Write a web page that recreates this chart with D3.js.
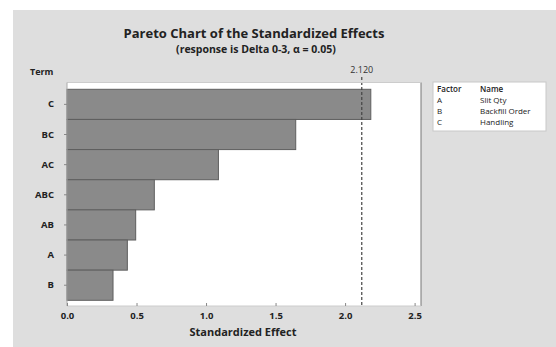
<!DOCTYPE html>
<html><head><meta charset="utf-8">
<script src="https://cdn.jsdelivr.net/npm/d3@7/dist/d3.min.js"></script>
<style>body{margin:0;background:#fff}svg{display:block}text{font-family:"Open Sans","Noto Sans",sans-serif}</style>
</head><body>
<svg id="c" width="556" height="347"></svg>
<script>
const terms = ["C","BC","AC","ABC","AB","A","B"];
const effects = [2.185, 1.645, 1.089, 0.628, 0.494, 0.434, 0.331];
const xTicks = [0, 0.5, 1.0, 1.5, 2.0, 2.5];
const critical = 2.120;
const factors = ["A","B","C"];
const factorNames = ["Slit Qty","Backfill Order","Handling"];

const svg = d3.select("#c");
svg.append("rect").attr("x",13).attr("y",10).attr("width",543).attr("height",337).attr("fill","#dedede");

const x = d3.scaleLinear().domain([0, 2.546]).range([67, 421]);
const y = d3.scaleBand().domain(terms).range([89.3, 300.3]).padding(0);

svg.append("rect").attr("x",67).attr("y",82.5).attr("width",354).attr("height",223.5).attr("fill","#fff");

svg.append("text").attr("x",254).attr("y",38).attr("text-anchor","middle").attr("font-size",13).attr("font-weight","bold").attr("fill","#222").text("Pareto Chart of the Standardized Effects");
svg.append("text").attr("x",256).attr("y",53).attr("text-anchor","middle").attr("font-size",10.5).attr("font-weight","bold").attr("fill","#222").text("(response is Delta 0-3, \u03b1 = 0.05)");
svg.append("text").attr("x",30).attr("y",75).attr("font-size",9).attr("font-weight","bold").attr("fill","#222").text("Term");

svg.append("g").selectAll("rect").data(terms).join("rect")
  .attr("x", x(0)).attr("y", d=>y(d)).attr("width", (d,i)=>x(effects[i])-x(0)).attr("height", y.bandwidth())
  .attr("fill","#8a8a8a").attr("stroke","#5e5e5e").attr("stroke-width",1);

svg.append("line").attr("x1",x(critical)).attr("x2",x(critical)).attr("y1",77).attr("y2",306)
  .attr("stroke","#444").attr("stroke-width",1.2).attr("stroke-dasharray","3,2");
svg.append("text").attr("x",x(critical)).attr("y",73).attr("text-anchor","middle").attr("font-size",9).attr("fill","#333").text(critical.toFixed(3));

svg.append("line").attr("x1",421).attr("x2",421).attr("y1",82.5).attr("y2",306).attr("stroke","#777");
svg.append("line").attr("x1",67).attr("x2",421).attr("y1",82.5).attr("y2",82.5).attr("stroke","#ccc");

const yAxis = svg.append("g").attr("transform","translate(67,0)").call(d3.axisLeft(y).tickSize(3).tickPadding(10));
yAxis.select(".domain").attr("stroke","#aaa").attr("d","M0,82.5V306");
yAxis.selectAll(".tick line").attr("stroke","#888");
yAxis.selectAll("text").attr("font-size",9.5).attr("font-weight","bold").attr("fill","#222").attr("font-family","'Open Sans',sans-serif");

const xAxis = svg.append("g").attr("transform","translate(0,306)").call(d3.axisBottom(x).tickValues(xTicks).tickFormat(d3.format(".1f")).tickSize(-3).tickPadding(6));
xAxis.select(".domain").attr("stroke","#ccc").attr("d","M67,0H421");
xAxis.selectAll(".tick line").attr("stroke","#888");
xAxis.selectAll("text").attr("font-size",9.5).attr("font-weight","bold").attr("fill","#222").attr("font-family","'Open Sans',sans-serif");

svg.append("text").attr("x",243).attr("y",336).attr("text-anchor","middle").attr("font-size",11).attr("font-weight","bold").attr("fill","#222").text("Standardized Effect");

svg.append("rect").attr("x",433).attr("y",82).attr("width",113).attr("height",49).attr("fill","#fff").attr("stroke","#c8c8c8");
svg.append("text").attr("x",437).attr("y",92).attr("font-size",8).attr("font-weight","600").attr("fill","#222").text("Factor");
svg.append("text").attr("x",480).attr("y",92).attr("font-size",8).attr("font-weight","600").attr("fill","#222").text("Name");
factors.forEach((f,i)=>{
  svg.append("text").attr("x",437).attr("y",103+i*11).attr("font-size",8).attr("fill","#222").text(f);
  svg.append("text").attr("x",480).attr("y",103+i*11).attr("font-size",8).attr("fill","#222").text(factorNames[i]);
});
</script>
</body></html>
